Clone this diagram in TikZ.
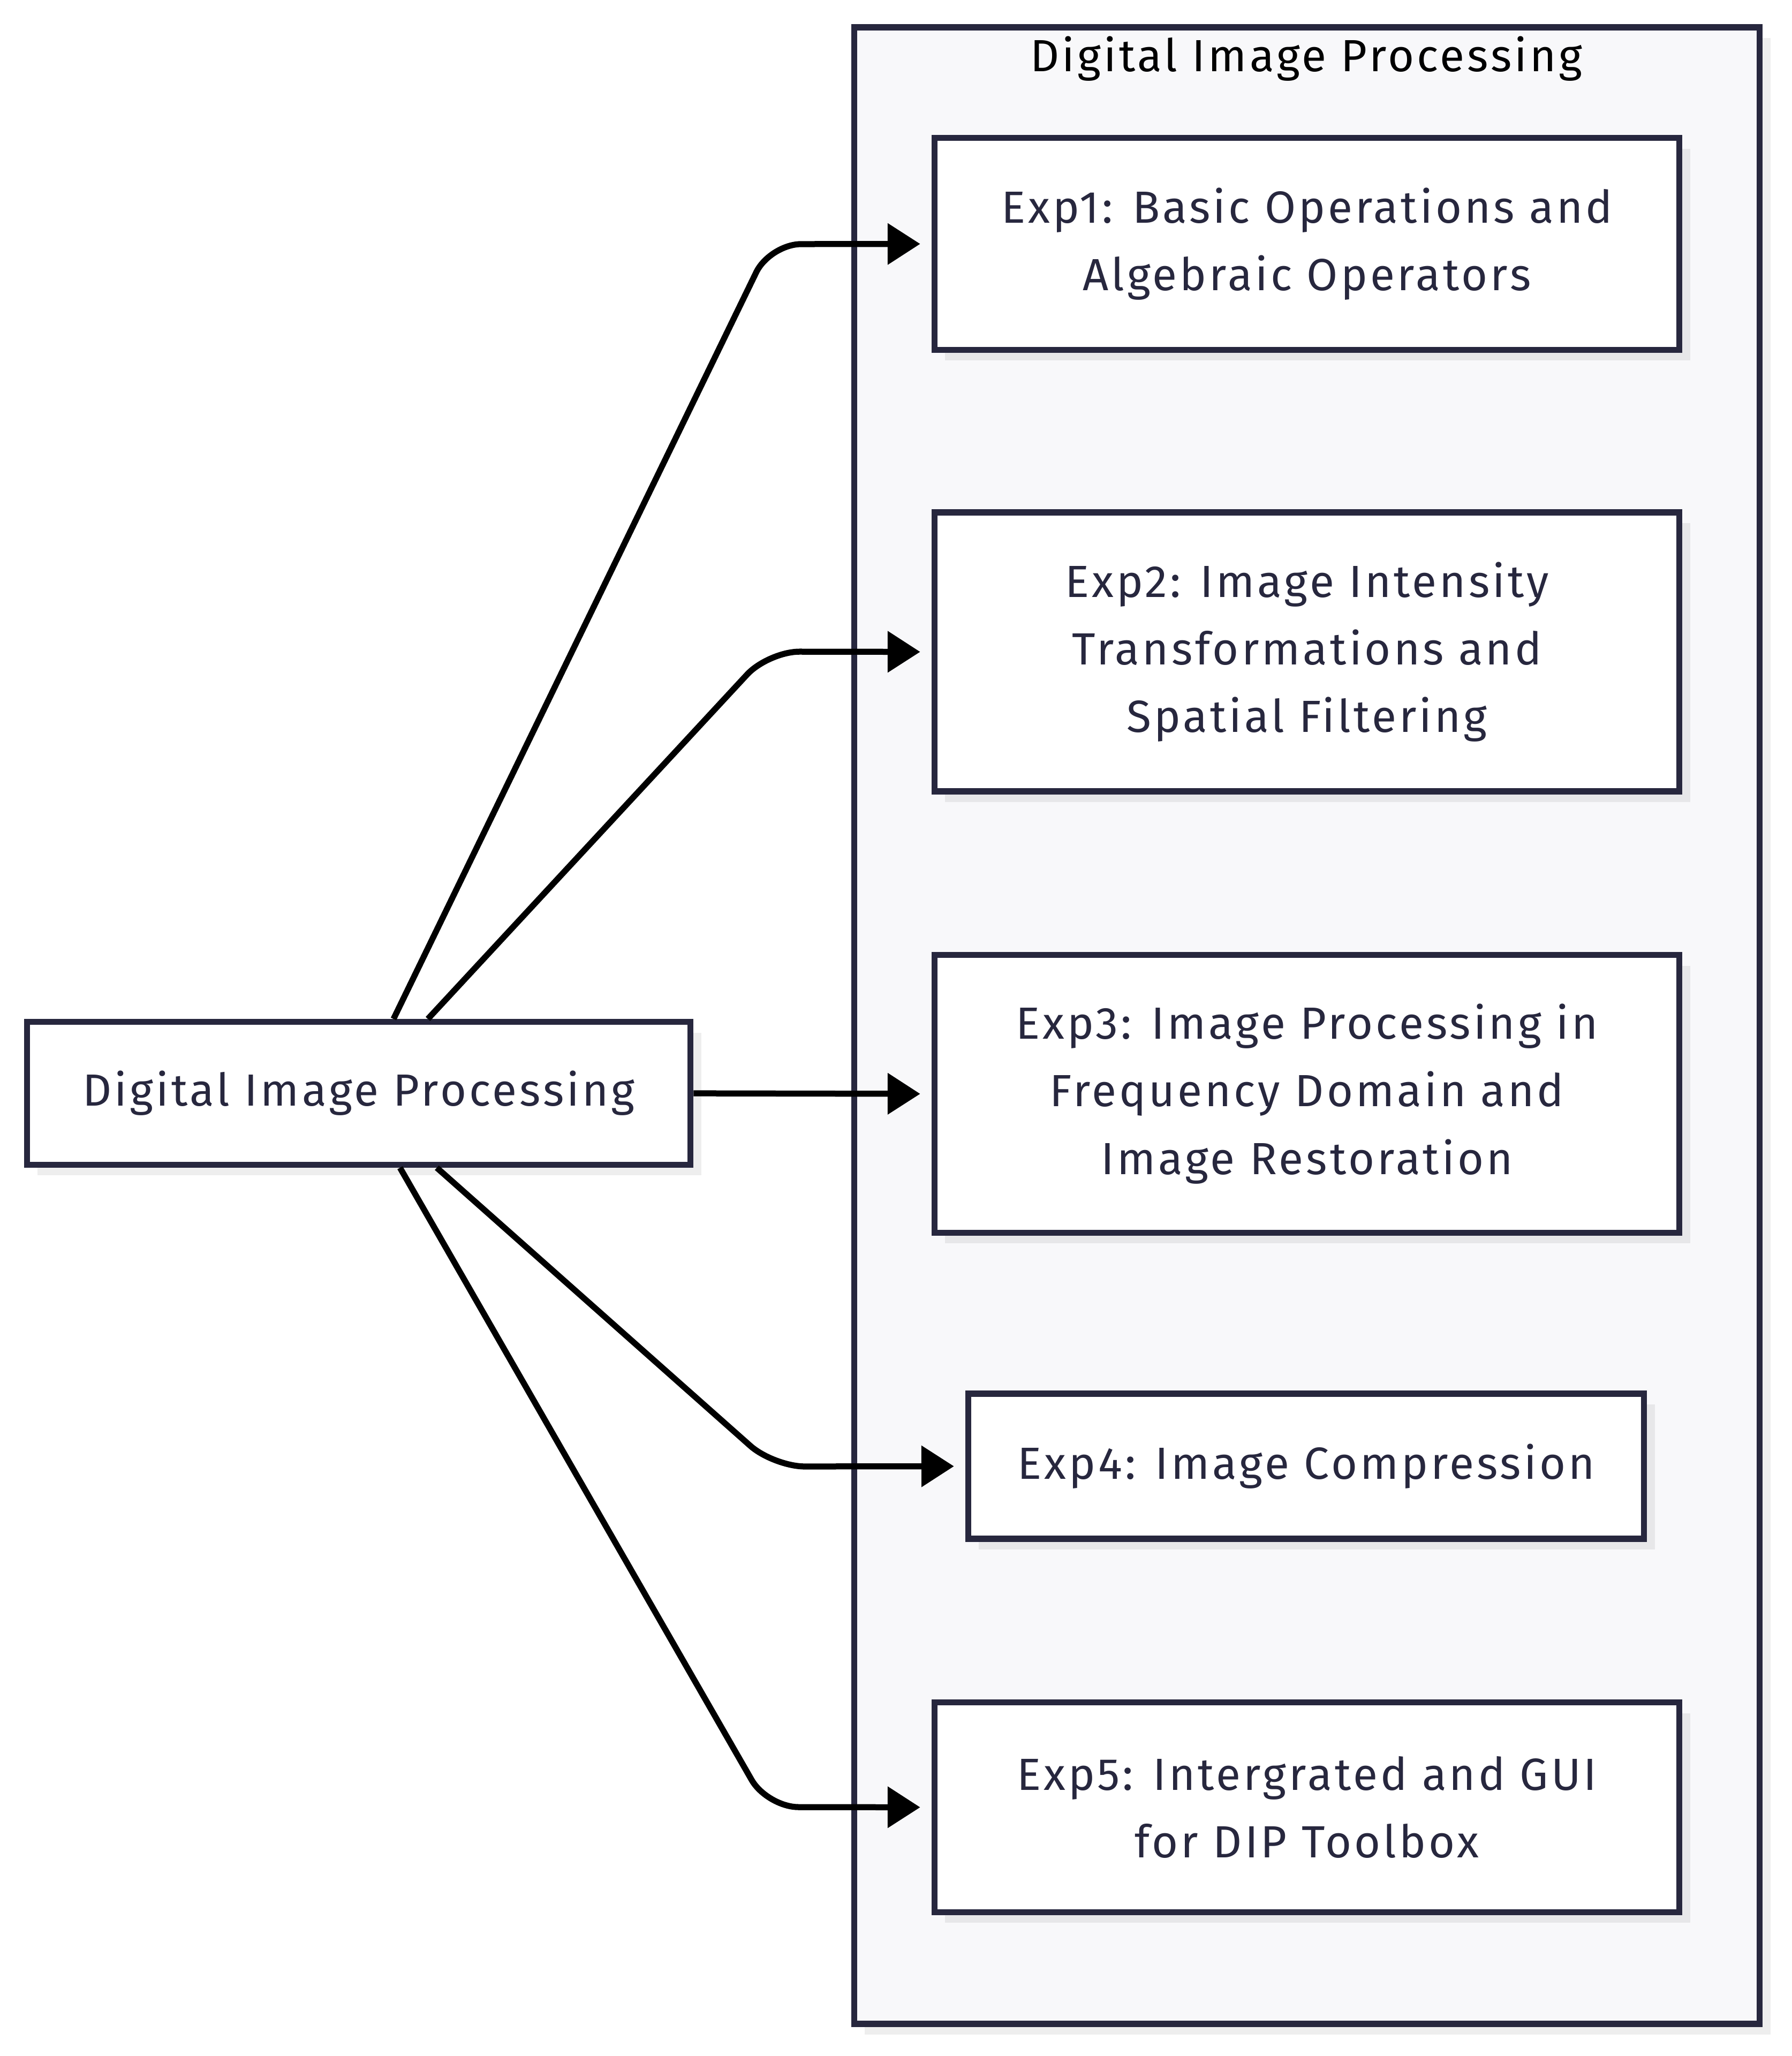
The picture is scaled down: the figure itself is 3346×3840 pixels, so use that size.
\documentclass[tikz,border=0pt]{standalone}
\usepackage{fontspec}
\setmainfont{Fira Sans}[LetterSpace=6]
\usetikzlibrary{arrows.meta,shadows}
\definecolor{ink}{HTML}{27273E}
\definecolor{clfill}{HTML}{F8F8FA}
\tikzset{
  txt/.style={font=\fontsize{20.2pt}{30.3pt}\selectfont, text=ink, align=center},
  boxnode/.style={txt, draw=ink, line width=2.7pt, fill=white, inner sep=0pt,
    drop shadow={shadow xshift=4.8pt, shadow yshift=-4.8pt, fill=black, opacity=0.065}},
  edge/.style={draw=black, line width=2.7pt, rounded corners=14pt,
    -{Triangle[length=14.6pt,width=18pt]}, shorten >=5pt}
}
\begin{document}
\begin{tikzpicture}[x=0.24pt,y=-0.24pt]
\useasboundingbox (0,0) rectangle (3346,3840);
% cluster
\node[draw=ink, line width=2.7pt, fill=clfill, minimum width=406pt, minimum height=895pt,
  inner sep=0pt,
  drop shadow={shadow xshift=4.8pt, shadow yshift=-4.8pt, fill=black, opacity=0.065}]
  (cl) at (2441,1915.5) {};
\node[txt, text=black] (cltitle) at (2440,110) {Digital Image Processing};
% nodes
\node[boxnode, minimum width=334pt, minimum height=95pt] (b1) at (2441,455.5)
  {Exp1: Basic Operations and\\Algebraic Operators};
\node[boxnode, minimum width=334pt, minimum height=125pt] (b2) at (2441,1217.5)
  {Exp2: Image Intensity\\Transformations and\\Spatial Filtering};
\node[boxnode, minimum width=334pt, minimum height=124.5pt] (b3) at (2441,2043)
  {Exp3: Image Processing in\\Frequency Domain and\\Image Restoration};
\node[boxnode, minimum width=303pt, minimum height=65pt] (b4) at (2439.5,2738.5)
  {Exp4: Image Compression};
\node[boxnode, minimum width=334pt, minimum height=94pt] (b5) at (2441,3375.5)
  {Exp5: Intergrated and GUI\\for DIP Toolbox};
\node[boxnode, minimum width=297.5pt, minimum height=64pt] (src) at (670,2042)
  {Digital Image Processing};
% connectors
\coordinate (c1) at (1438,456);
\coordinate (c2) at (1435,1217);
\coordinate (c4) at (1445,2739);
\coordinate (c5) at (1433,3375);
\draw[edge] ([xshift=15.6pt]src.north) -- (c1) -- (b1.west);
\draw[edge] ([xshift=31pt]src.north) -- (c2) -- (b2.west);
\draw[edge] (src.east) -- (b3.west);
\draw[edge] ([xshift=35pt]src.south) -- (c4) -- (b4.west);
\draw[edge] ([xshift=18.5pt]src.south) -- (c5) -- (b5.west);
\end{tikzpicture}
\end{document}
